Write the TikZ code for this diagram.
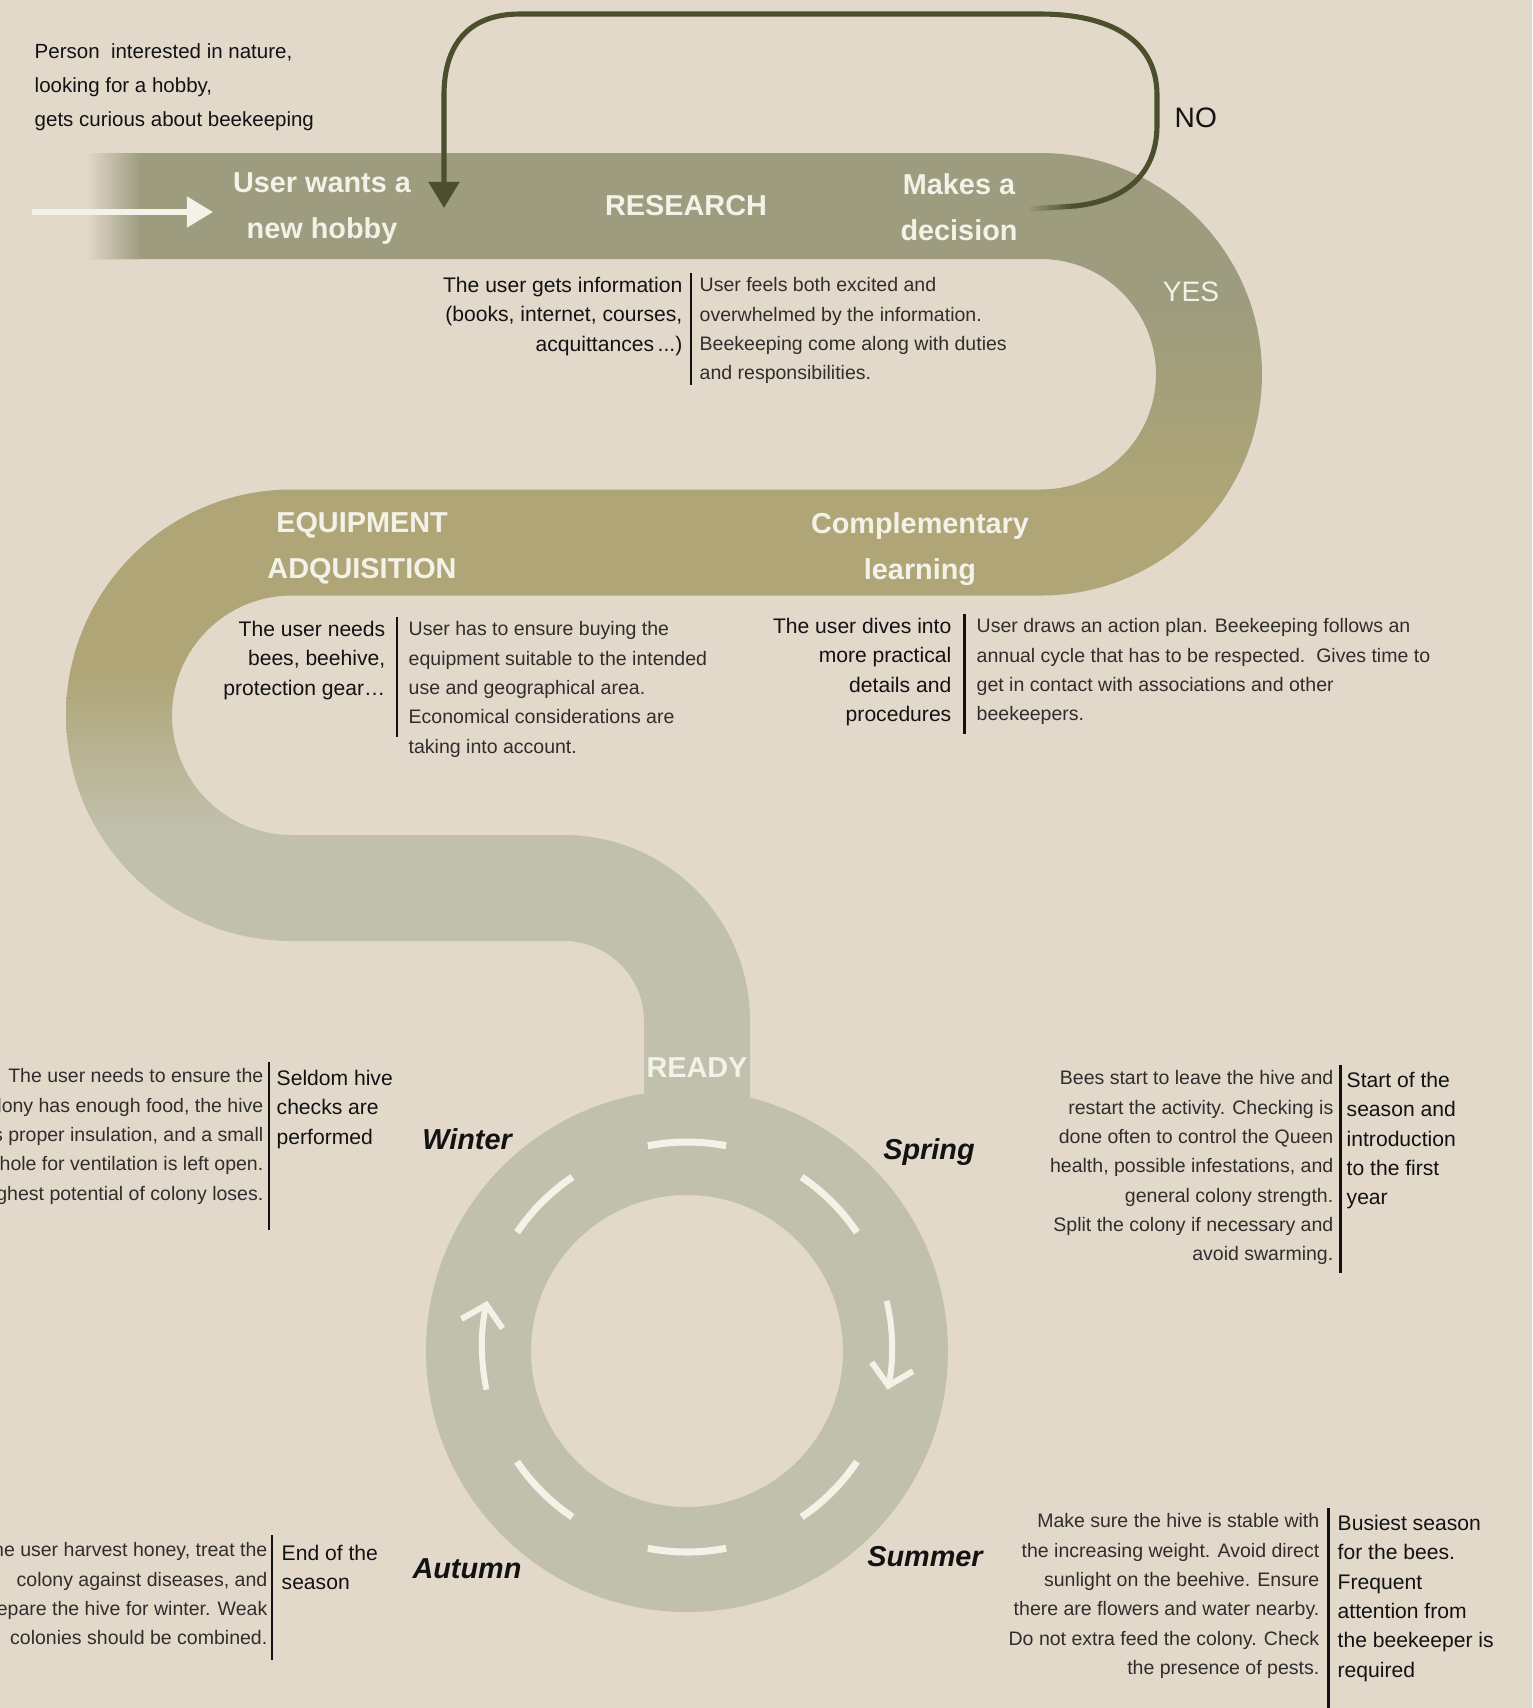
\documentclass[tikz,border=0pt]{standalone}
\usepackage{fontspec}
\setmainfont{Liberation Sans}
\usetikzlibrary{arrows.meta}

\definecolor{paper}{RGB}{227,217,203}
\definecolor{bandtop}{RGB}{157,156,126}
\definecolor{bandmid}{RGB}{175,165,118}
\definecolor{bandlow}{RGB}{193,192,172}
\definecolor{cream}{RGB}{243,242,232}
\definecolor{ink}{RGB}{18,18,18}
\definecolor{greyink}{RGB}{48,46,44}
\definecolor{loopc}{RGB}{76,79,46}

\newcommand\txtIntro{\fontsize{5.83}{9.67}\selectfont}
\newcommand\txtRoad{\bfseries\fontsize{8.2}{13.1}\selectfont}
\newcommand\txtEmph{\fontsize{6.0}{8.34}\selectfont}
\newcommand\txtLight{\fontsize{5.55}{8.34}\selectfont}
\newcommand\txtSeason{\bfseries\itshape\fontsize{8.2}{10}\selectfont}
\newcommand\txtAnswer{\fontsize{8}{10}\selectfont}

\begin{document}
\begin{tikzpicture}[x=0.01cm,y=-0.01cm,
  roadlabel/.style={font=\txtRoad, text=cream, align=center, inner sep=0pt},
  season/.style={font=\txtSeason, text=ink, inner sep=0pt, anchor=base},
  emphtext/.style={font=\txtEmph, text=ink, inner sep=0pt},
  lighttext/.style={font=\txtLight, text=greyink, inner sep=0pt},
  introtext/.style={font=\txtIntro, text=ink, inner sep=0pt, align=left},
  divider/.style={draw=ink, line width=0.85pt},
  dashmark/.style={draw=cream, line width=2pt},
  cyclearrow/.style={draw=cream, line width=1.7pt, -{Straight Barb[length=5.5pt,width=12pt]}},
  loopline/.style={draw=loopc, line width=1.45pt},
  startarrow/.style={draw=cream, line width=1.45pt, -{Triangle[length=7.4pt,width=8.5pt]}}
]
\useasboundingbox (0,0) rectangle (1532,1708);
\fill[paper] (0,0) rectangle (1532,1708);

% ---- the winding road, shaded from olive to pale sage ----
\begin{scope}
  \clip (87,153) -- (1040.75,153) arc[start angle=-90,end angle=90,radius=221.25]
    -- (291.75,595.5) arc[start angle=-90,end angle=-270,radius=119.75]
    -- (564,835) arc[start angle=-90,end angle=0,radius=186]
    -- (750,1140) -- (644,1140) -- (644,1021)
    arc[start angle=0,end angle=-90,radius=80]
    -- (291.75,941) arc[start angle=90,end angle=270,radius=225.75]
    -- (1040.75,489.5) arc[start angle=90,end angle=-90,radius=115.25]
    -- (87,259) -- cycle;
  \fill[bandtop] (0,0) rectangle (1532,301);
  \shade[top color=bandtop, bottom color=bandmid] (0,300) rectangle (1532,501);
  \fill[bandmid] (0,500) rectangle (1532,671);
  \shade[top color=bandmid, bottom color=bandlow] (0,670) rectangle (1532,831);
  \fill[bandlow] (0,830) rectangle (1532,1200);
  \shade[left color=paper, right color=bandtop] (86,150) rectangle (141,262);
\end{scope}

% ---- the yearly ring ----
\fill[bandlow, even odd rule] (687,1351) circle[radius=261] (687,1351) circle[radius=156];
\coordinate (hub) at (687,1347);
\foreach \a [evaluate=\a as \s using \a-11, evaluate=\a as \e using \a+11]
    in {-135,-90,-45,45,90,135}
  \draw[dashmark] (hub) ++(\s:205) arc[start angle=\s, end angle=\e, radius=205];
\draw[cyclearrow] (hub) ++(-13:205) arc[start angle=-13, end angle=12, radius=205];
\draw[cyclearrow] (hub) ++(168:205) arc[start angle=168, end angle=193, radius=205];

% ---- road labels ----
\node[roadlabel, anchor=north] (hobby) at (322,171.6) {User wants a\\new hobby};
\node[roadlabel, anchor=center] (research) at (686,206) {RESEARCH};
\node[roadlabel, anchor=north] (decision) at (959,172.6) {Makes a\\decision};
\node[roadlabel, anchor=north] (equip) at (362,511.6) {EQUIPMENT\\ADQUISITION};
\node[roadlabel, anchor=north] (learning) at (920,511.6) {Complementary\\learning};
\node[roadlabel, anchor=center] (ready) at (697,1068) {READY};
\node[font=\txtAnswer, text=ink, inner sep=0pt, anchor=west] (no) at (1174,118) {NO};
\node[font=\txtAnswer, text=cream, inner sep=0pt, anchor=center] (yes) at (1191,292) {YES};

% ---- entry arrow and the NO loop ----
\node[introtext, anchor=north west] (intro) at (34,42.6)
  {Person\ \ interested in nature,\\looking for a hobby,\\gets curious about beekeeping};
\coordinate (entryTail) at (32,212);
\coordinate (entryHead) at (213,212);
\draw[startarrow] (entryTail) -- (entryHead);

\coordinate (noStart) at (1030,209);
\coordinate (noSolid) at (1075,206);
\coordinate (noEnd) at (444,208);
\foreach \i in {0,...,9}{
  \pgfmathtruncatemacro\p{10*\i+10}
  \draw[loopline, draw=loopc!\p!bandtop] (1030+4.5*\i,209-0.3*\i) -- ++(5.2,-0.35);
}
\draw[loopline, -{Triangle[length=7.4pt,width=8.5pt]}] (noSolid)
  .. controls (1130,200) and (1157,170) .. (1157,125) -- (1157,95)
  .. controls (1157,40) and (1110,14) .. (1040,14) -- (520,14)
  .. controls (468,14) and (444,45) .. (444,95) -- (noEnd);

% ---- research notes ----
\node[emphtext, anchor=north east, align=right] (resA) at (683,276.4)
  {The user gets information\\(books, internet, courses,\\acquittances\,...)};
\draw[divider] (691,273) -- (691,385);
\node[lighttext, anchor=north west, align=left] (resB) at (699,277)
  {User feels both excited and\\overwhelmed by the information.\\Beekeeping come along with duties\\and responsibilities.};

% ---- equipment notes ----
\node[emphtext, anchor=north east, align=right] (eqA) at (386,620.4)
  {The user needs\\bees, beehive,\\protection gear\ldots};
\draw[divider] (397,617) -- (397,737);
\node[lighttext, anchor=north west, align=left] (eqB) at (408,621)
  {User has to ensure buying the\\equipment suitable to the intended\\use and geographical area.\\Economical considerations are\\taking into account.};

% ---- learning notes ----
\node[emphtext, anchor=north east, align=right] (lnA) at (952,617.4)
  {The user dives into\\more practical\\details and\\procedures};
\draw[divider] (964,614) -- (964,734);
\node[lighttext, anchor=north west, align=left] (lnB) at (976,618)
  {User draws an action plan. Beekeeping follows an\\annual cycle that has to be respected.\ \ Gives time to\\get in contact with associations and other\\beekeepers.};

% ---- seasons ----
\node[season] (winter) at (467,1149.4) {Winter};
\node[season] (spring) at (929,1159.4) {Spring};
\node[season] (summer) at (925,1566.4) {Summer};
\node[season] (autumn) at (467,1578.4) {Autumn};

\node[lighttext, anchor=north east, align=right] (wiB) at (264,1068)
  {The user needs to ensure the\\colony has enough food, the hive\\has proper insulation, and a small\\hole for ventilation is left open.\\Highest potential of colony loses.};
\draw[divider] (269,1062) -- (269,1230);
\node[emphtext, anchor=north west, align=left] (wiA) at (276,1069.4)
  {Seldom hive\\checks are\\performed};

\node[lighttext, anchor=north east, align=right] (spB) at (1334,1070)
  {Bees start to leave the hive and\\restart the activity. Checking is\\done often to control the Queen\\health, possible infestations, and\\general colony strength.\\Split the colony if necessary and\\avoid swarming.};
\draw[divider] (1340,1065) -- (1340,1273);
\node[emphtext, anchor=north west, align=left] (spA) at (1346,1071.4)
  {Start of the\\season and\\introduction\\to the first\\year};

\node[lighttext, anchor=north east, align=right] (auB) at (268,1542)
  {The user harvest honey, treat the\\colony against diseases, and\\prepare the hive for winter. Weak\\colonies should be combined.};
\draw[divider] (272,1535) -- (272,1660);
\node[emphtext, anchor=north west, align=left] (auA) at (281,1544.4)
  {End of the\\season};

\node[lighttext, anchor=north east, align=right] (suB) at (1320,1513)
  {Make sure the hive is stable with\\the increasing weight. Avoid direct\\sunlight on the beehive. Ensure\\there are flowers and water nearby.\\Do not extra feed the colony. Check\\the presence of pests.};
\draw[divider] (1328,1508) -- (1328,1708);
\node[emphtext, anchor=north west, align=left] (suA) at (1337,1514.4)
  {Busiest season\\for the bees.\\Frequent\\attention from\\the beekeeper is\\required};
\end{tikzpicture}
\end{document}
